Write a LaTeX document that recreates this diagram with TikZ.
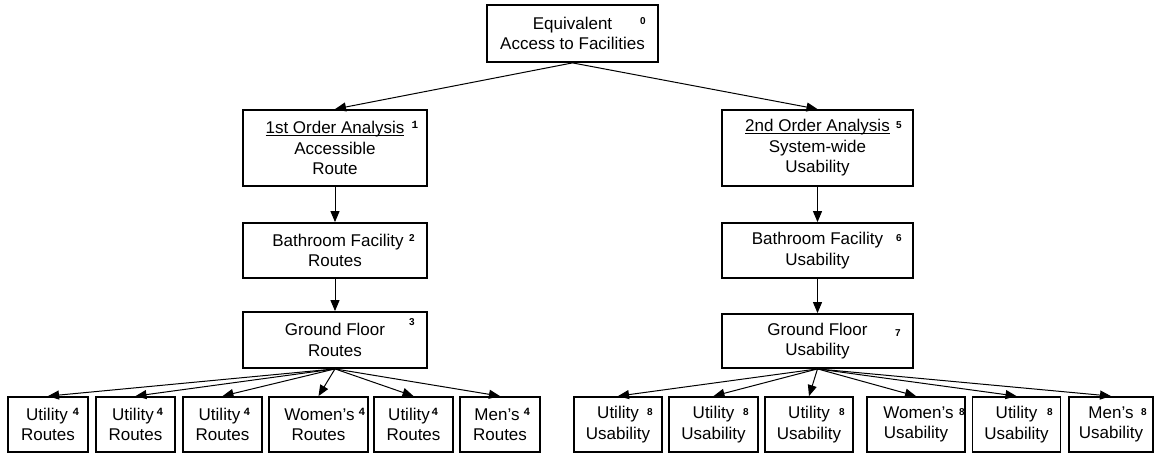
\documentclass[tikz,border=0pt]{standalone}
\usepackage{fontspec}
\setmainfont{Liberation Sans}
\newfontfamily\numfont{Liberation Mono}
\usetikzlibrary{arrows.meta}
% underline set close under the baseline, as wide as the words
\newcommand\headline[1]{\setbox0\hbox{#1}\rlap{\rule[-2.6pt]{\wd0}{1.2pt}}\box0}
\begin{document}
\begin{tikzpicture}[x=1pt,y=-1pt,
  box/.style={draw,line width=1.8pt,rectangle,inner sep=0pt,align=center,
    font=\fontsize{17}{20.5}\selectfont},
  leaf/.style={box,minimum height=55pt},
  num/.style={inner sep=0pt,font=\fontsize{10}{10}\selectfont\bfseries},
  mnum/.style={inner sep=0pt,font=\fontsize{11}{11}\selectfont\numfont\bfseries},
  link/.style={line width=1pt,-{Triangle[length=11pt,width=9pt]}}]
\useasboundingbox (0,0) rectangle (1157,455);

% root
\node[box,minimum width=171pt,minimum height=57pt] (b0) at (572.5,33.5)
  {Equivalent\\Access to Facilities};
\node[num] (n0) at (643,21) {0};

% first order branch
\node[box,minimum width=184pt,minimum height=76pt] (b1) at (335,148)
  {\headline{1st Order Analysis}\\Accessible\\Route};
\node[mnum] (n1) at (415,125) {1};
\node[box,minimum width=184pt,minimum height=55pt] (b2) at (335,250.5)
  {\hspace*{6pt}Bathroom Facility\\Routes};
\node[num] (n2) at (412,238) {2};
\node[box,minimum width=184pt,minimum height=56pt] (b3) at (335,340)
  {Ground Floor\\Routes};
\node[num] (n3) at (412,322) {3};

% second order branch
\node[box,minimum width=191pt,minimum height=76pt] (b5) at (817.5,148)
  {\headline{2nd Order Analysis}\\System-wide\\Usability};
\node[num] (n5) at (899,125) {5};
\node[box,minimum width=191pt,minimum height=55pt] (b6) at (817.5,250.5)
  {Bathroom Facility\\Usability};
\node[num] (n6) at (899,238) {6};
\node[box,minimum width=191pt,minimum height=54pt] (b7) at (817.5,341)
  {Ground Floor\\Usability};
\node[num] (n7) at (898,333) {7};

% route leaves
\node[leaf,minimum width=80pt] (l1) at (48,424.5) {Utility\hspace*{2pt}\\Routes};
\node[leaf,minimum width=79pt] (l2) at (135.5,424.5) {Utility\hspace*{5pt}\\Routes};
\node[leaf,minimum width=79pt] (l3) at (222.5,424.5) {Utility\hspace*{6pt}\\Routes};
\node[leaf,minimum width=99pt] (l4) at (318.5,424.5) {\hspace*{2pt}Women’s\\Routes};
\node[leaf,minimum width=79pt] (l5) at (413.5,424.5) {Utility\hspace*{9pt}\\Routes};
\node[leaf,minimum width=80pt] (l6) at (500,424.5) {Men’s\hspace*{6pt}\\Routes};
\node[mnum] (m1) at (76,412) {4};
\node[mnum] (m2) at (160,412) {4};
\node[mnum] (m3) at (247,412) {4};
\node[mnum] (m4) at (362,412) {4};
\node[mnum] (m5) at (435,412) {4};
\node[mnum] (m6) at (527,412) {4};

% usability leaves
\node[leaf,minimum width=88pt] (r1) at (618,424.5) {Utility\\Usability};
\node[leaf,minimum width=89pt] (r2) at (713.5,424.5) {Utility\\Usability};
\node[leaf,minimum width=88pt] (r3) at (809,424.5) {Utility\\Usability};
\node[leaf,minimum width=98pt] (r4) at (916,424.5) {\hspace*{5pt}Women’s\\Usability};
\node[leaf,minimum width=88pt] (r5) at (1016.5,424.5) {Utility\\Usability};
\node[leaf,minimum width=84pt] (r6) at (1111,424.5) {Men’s\\Usability};
\node[num] (k1) at (650,412) {8};
\node[num] (k2) at (746,412) {8};
\node[num] (k3) at (842,412) {8};
\node[num] (k4) at (962,412) {8};
\node[num] (k5) at (1050,412) {8};
\node[num] (k6) at (1144,412) {8};

% connectors
\draw[link] (b0.south) -- (b1.north);
\draw[link] (b0.south) -- (b5.north);
\draw[link] (b1.south) -- (b2.north);
\draw[link] (b2.south) -- (b3.north);
\draw[link] (b5.south) -- (b6.north);
\draw[link] (b6.south) -- (b7.north);
\foreach \t in {l1,l2,l3,l4,l5,l6}
  \draw[link] (b3.south) -- (\t.north);
\foreach \t in {r1,r2,r3,r4,r5,r6}
  \draw[link] (b7.south) -- (\t.north);
\end{tikzpicture}
\end{document}
